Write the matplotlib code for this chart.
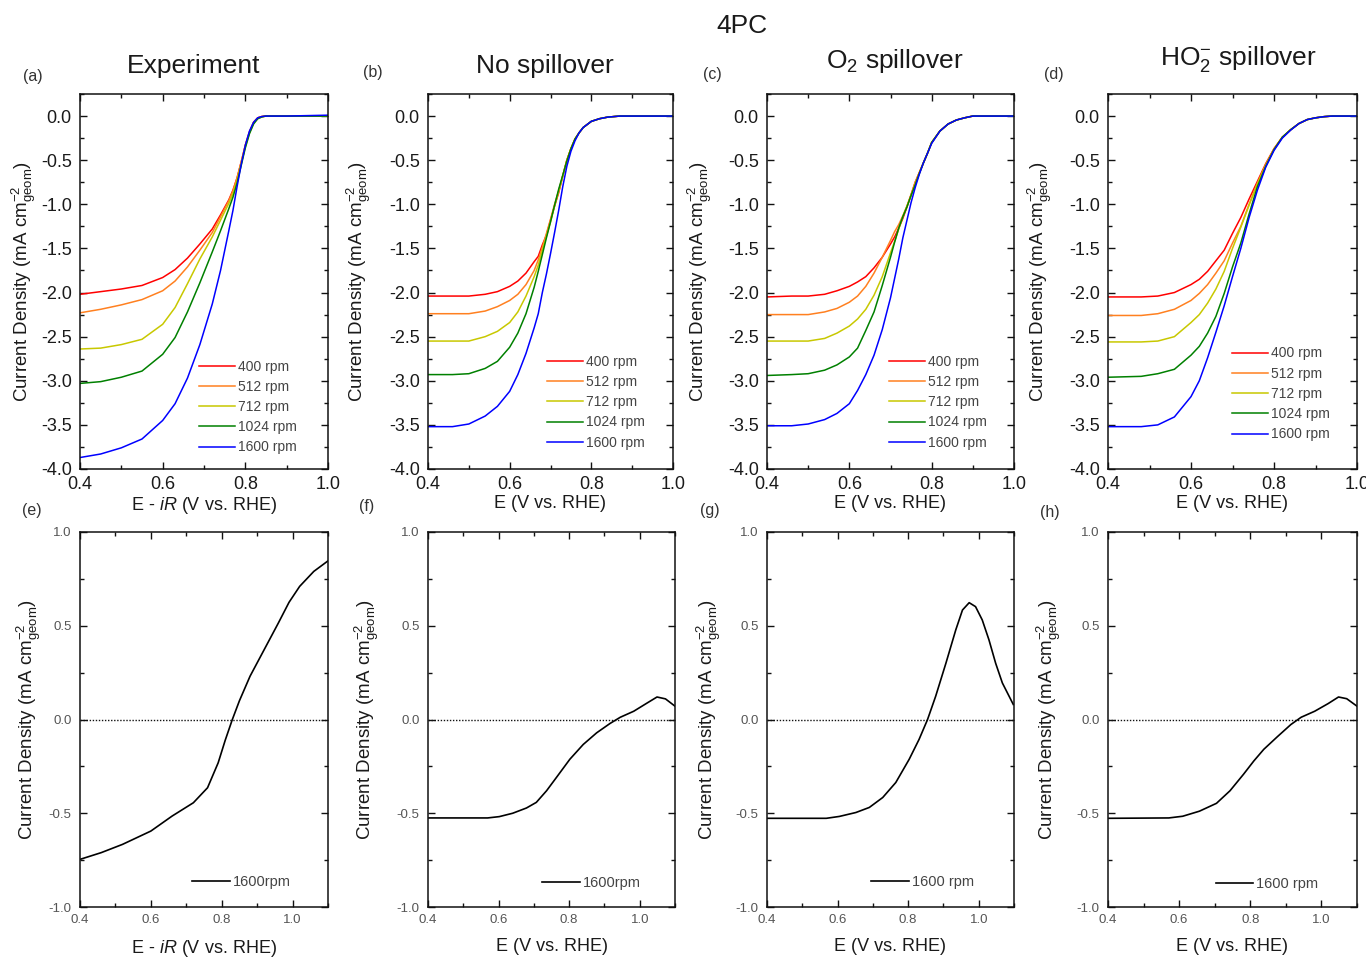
import matplotlib
matplotlib.use("Agg")
import matplotlib.pyplot as plt
from matplotlib.ticker import MultipleLocator, FormatStrFormatter

plt.rcParams['font.family'] = ['Liberation Sans', 'DejaVu Sans']
plt.rcParams['mathtext.fontset'] = 'custom'
plt.rcParams['mathtext.rm'] = 'Liberation Sans'
plt.rcParams['mathtext.it'] = 'Liberation Sans:italic'
plt.rcParams['mathtext.bf'] = 'Liberation Sans:bold'

# ---------------- data ----------------
rpm_labels = ['400 rpm', '512 rpm', '712 rpm', '1024 rpm', '1600 rpm']
rpm_colors = ['#ff0000', '#ff8020', '#c8c800', '#008000', '#0000ff']

# (a) Experiment
E_a = [0.40, 0.45, 0.50, 0.55, 0.60, 0.63, 0.66, 0.69, 0.72, 0.74, 0.76, 0.77,
       0.78, 0.79, 0.80, 0.81, 0.82, 0.83, 0.84, 0.85, 0.90, 1.00]
a_400 = [-2.02, -1.99, -1.96, -1.92, -1.83, -1.74, -1.61, -1.45, -1.28, -1.12, -0.95, -0.84,
         -0.70, -0.52, -0.33, -0.18, -0.07, -0.02, -0.005, 0.0, 0.0, 0.0]
a_512 = [-2.23, -2.19, -2.14, -2.08, -1.98, -1.87, -1.71, -1.52, -1.32, -1.14, -0.96, -0.85,
         -0.70, -0.52, -0.33, -0.18, -0.07, -0.02, -0.005, 0.0, 0.0, 0.0]
a_712 = [-2.64, -2.63, -2.59, -2.53, -2.36, -2.17, -1.90, -1.62, -1.37, -1.18, -0.99, -0.88,
         -0.73, -0.54, -0.35, -0.19, -0.08, -0.03, -0.01, 0.0, 0.0, 0.0]
a_1024 = [-3.03, -3.01, -2.96, -2.89, -2.70, -2.51, -2.22, -1.89, -1.54, -1.30, -1.05, -0.92,
          -0.76, -0.56, -0.36, -0.20, -0.09, -0.03, -0.01, 0.0, 0.0, 0.0]
a_1600 = [-3.87, -3.83, -3.76, -3.66, -3.45, -3.26, -2.97, -2.59, -2.13, -1.75, -1.30, -1.07,
          -0.80, -0.55, -0.33, -0.17, -0.07, -0.02, -0.005, 0.0, 0.0, 0.01]

# (b) No spillover
E_b = [0.40, 0.46, 0.50, 0.54, 0.57, 0.60, 0.62, 0.64, 0.66, 0.67, 0.68, 0.69, 0.70, 0.71,
       0.72, 0.73, 0.74, 0.75, 0.76, 0.77, 0.78, 0.80, 0.82, 0.84, 0.87, 0.90, 1.00]
b_400 = [-2.04, -2.04, -2.04, -2.02, -1.99, -1.93, -1.87, -1.78, -1.65, -1.59, -1.46, -1.35, -1.18, -1.02,
         -0.87, -0.68, -0.50, -0.37, -0.26, -0.19, -0.13, -0.06, -0.03, -0.012, 0.0, 0.0, 0.0]
b_512 = [-2.24, -2.24, -2.24, -2.21, -2.16, -2.09, -2.02, -1.91, -1.75, -1.63, -1.49, -1.33, -1.17, -1.00,
         -0.85, -0.68, -0.50, -0.37, -0.26, -0.19, -0.13, -0.06, -0.03, -0.012, 0.0, 0.0, 0.0]
b_712 = [-2.55, -2.55, -2.55, -2.50, -2.44, -2.34, -2.22, -2.04, -1.82, -1.69, -1.52, -1.36, -1.20, -1.02,
         -0.85, -0.68, -0.50, -0.37, -0.26, -0.19, -0.13, -0.06, -0.03, -0.012, 0.0, 0.0, 0.0]
b_1024 = [-2.93, -2.93, -2.92, -2.86, -2.78, -2.62, -2.46, -2.24, -1.94, -1.76, -1.57, -1.38, -1.20, -1.01,
          -0.83, -0.67, -0.51, -0.37, -0.26, -0.19, -0.13, -0.06, -0.03, -0.012, 0.0, 0.0, 0.0]
b_1600 = [-3.52, -3.52, -3.49, -3.40, -3.29, -3.12, -2.93, -2.69, -2.40, -2.24, -2.00, -1.79, -1.56, -1.32,
          -1.07, -0.80, -0.57, -0.40, -0.28, -0.19, -0.13, -0.06, -0.03, -0.012, 0.0, 0.0, 0.0]

# (c) O2 spillover
E_c = [0.40, 0.46, 0.50, 0.54, 0.57, 0.60, 0.62, 0.64, 0.66, 0.68, 0.70, 0.71, 0.72, 0.73,
       0.74, 0.75, 0.76, 0.77, 0.78, 0.79, 0.80, 0.82, 0.84, 0.86, 0.88, 0.90, 1.00]
c_400 = [-2.05, -2.04, -2.04, -2.02, -1.98, -1.93, -1.88, -1.82, -1.72, -1.60, -1.45, -1.37, -1.27, -1.16,
         -1.03, -0.89, -0.75, -0.64, -0.53, -0.42, -0.30, -0.17, -0.09, -0.045, -0.02, 0.0, 0.0]
c_512 = [-2.25, -2.25, -2.25, -2.22, -2.18, -2.11, -2.04, -1.93, -1.78, -1.60, -1.41, -1.31, -1.23, -1.13,
         -1.02, -0.89, -0.75, -0.64, -0.53, -0.42, -0.30, -0.17, -0.09, -0.045, -0.02, 0.0, 0.0]
c_712 = [-2.55, -2.55, -2.55, -2.52, -2.46, -2.38, -2.30, -2.19, -2.03, -1.82, -1.55, -1.42, -1.28, -1.14,
         -1.02, -0.90, -0.77, -0.65, -0.53, -0.42, -0.30, -0.17, -0.09, -0.045, -0.02, 0.0, 0.0]
c_1024 = [-2.94, -2.93, -2.92, -2.88, -2.82, -2.73, -2.63, -2.43, -2.22, -1.92, -1.60, -1.43, -1.27, -1.14,
          -1.03, -0.90, -0.78, -0.65, -0.53, -0.42, -0.30, -0.17, -0.09, -0.045, -0.02, 0.0, 0.0]
c_1600 = [-3.51, -3.51, -3.49, -3.44, -3.37, -3.26, -3.11, -2.93, -2.71, -2.42, -2.06, -1.84, -1.62, -1.38,
          -1.18, -0.98, -0.81, -0.66, -0.53, -0.42, -0.31, -0.17, -0.09, -0.045, -0.02, 0.0, 0.0]

# (d) HO2- spillover
E_d = [0.40, 0.48, 0.52, 0.56, 0.60, 0.62, 0.64, 0.66, 0.68, 0.70, 0.72, 0.74, 0.76,
       0.78, 0.80, 0.82, 0.84, 0.86, 0.88, 0.90, 0.92, 0.94, 1.00]
d_400 = [-2.05, -2.05, -2.04, -2.00, -1.91, -1.85, -1.76, -1.64, -1.52, -1.33, -1.15, -0.94, -0.74,
         -0.54, -0.37, -0.24, -0.155, -0.085, -0.04, -0.02, -0.007, 0.0, 0.0]
d_512 = [-2.26, -2.26, -2.24, -2.19, -2.09, -2.01, -1.91, -1.78, -1.64, -1.44, -1.25, -1.00, -0.76,
         -0.55, -0.37, -0.24, -0.155, -0.085, -0.04, -0.02, -0.007, 0.0, 0.0]
d_712 = [-2.56, -2.56, -2.55, -2.50, -2.34, -2.25, -2.12, -1.96, -1.76, -1.50, -1.26, -1.01, -0.77,
         -0.56, -0.38, -0.24, -0.155, -0.085, -0.04, -0.02, -0.007, 0.0, 0.0]
d_1024 = [-2.96, -2.95, -2.92, -2.87, -2.71, -2.61, -2.46, -2.27, -2.01, -1.71, -1.44, -1.11, -0.80,
          -0.57, -0.38, -0.24, -0.155, -0.085, -0.04, -0.02, -0.007, 0.0, 0.0]
d_1600 = [-3.52, -3.52, -3.50, -3.41, -3.18, -3.00, -2.74, -2.45, -2.15, -1.82, -1.50, -1.15, -0.84,
          -0.58, -0.39, -0.25, -0.16, -0.085, -0.04, -0.02, -0.007, 0.0, 0.0]

# bottom row, 1600 rpm
E_e = [0.40, 0.46, 0.52, 0.60, 0.66, 0.72, 0.76, 0.79, 0.81, 0.83, 0.85, 0.88, 0.92,
       0.96, 0.99, 1.02, 1.06, 1.10]
J_e = [-0.746, -0.71, -0.666, -0.595, -0.515, -0.444, -0.364, -0.231, -0.11, 0.0, 0.10, 0.231,
       0.373, 0.515, 0.625, 0.71, 0.79, 0.846]

E_f = [0.40, 0.569, 0.602, 0.640, 0.679, 0.707, 0.736, 0.764, 0.802, 0.840, 0.878, 0.916,
       0.945, 0.983, 1.021, 1.049, 1.073, 1.10]
J_f = [-0.525, -0.525, -0.518, -0.50, -0.472, -0.442, -0.38, -0.309, -0.212, -0.133, -0.071,
       -0.021, 0.012, 0.044, 0.088, 0.12, 0.11, 0.071]

E_g = [0.40, 0.568, 0.605, 0.652, 0.690, 0.728, 0.765, 0.803, 0.831, 0.855, 0.878, 0.907,
       0.935, 0.954, 0.973, 0.991, 1.010, 1.029, 1.048, 1.067, 1.098]
J_g = [-0.527, -0.527, -0.517, -0.496, -0.469, -0.416, -0.336, -0.212, -0.106, 0.0, 0.124, 0.30,
       0.478, 0.584, 0.623, 0.602, 0.531, 0.425, 0.30, 0.195, 0.08]

E_h = [0.40, 0.571, 0.610, 0.657, 0.705, 0.743, 0.781, 0.810, 0.838, 0.876, 0.914, 0.943,
       0.981, 1.019, 1.048, 1.071, 1.10]
J_h = [-0.527, -0.525, -0.516, -0.489, -0.447, -0.38, -0.292, -0.221, -0.159, -0.092, -0.027,
       0.012, 0.044, 0.085, 0.12, 0.111, 0.071]

top_titles = ['Experiment', 'No spillover', r'O$_2$ spillover', r'HO$_2^{-}$ spillover']
top_letters = ['(a)', '(b)', '(c)', '(d)']
bot_letters = ['(e)', '(f)', '(g)', '(h)']
top_xlabels = [r'E - $\mathit{iR}$ (V vs. RHE)', 'E (V vs. RHE)', 'E (V vs. RHE)', 'E (V vs. RHE)']
bot_xlabels = top_xlabels
bot_legend = ['1600rpm', '1600rpm', '1600 rpm', '1600 rpm']
ylabel_txt = r'Current Density (mA cm$^{-2}_{\mathrm{geom}}$)'

# ---------------- layout ----------------
W, H = 1366, 958
fig = plt.figure(figsize=(W / 100, H / 100), dpi=100)

def frac(left, right, top, bottom):
    return [left / W, 1 - bottom / H, (right - left) / W, (bottom - top) / H]

top_pos = [(80, 328), (428, 673), (767, 1014), (1108, 1357)]
bot_pos = [(80, 328), (428, 675), (767, 1014), (1108, 1357)]

top_data = [
    (E_a, [a_400, a_512, a_712, a_1024, a_1600]),
    (E_b, [b_400, b_512, b_712, b_1024, b_1600]),
    (E_c, [c_400, c_512, c_712, c_1024, c_1600]),
    (E_d, [d_400, d_512, d_712, d_1024, d_1600]),
]
bot_data = [(E_e, J_e), (E_f, J_f), (E_g, J_g), (E_h, J_h)]

top_leg_anchor = [(0.478, 0.292), (0.484, 0.305), (0.492, 0.305), (0.496, 0.327)]
top_ylab_x = [-0.17, -0.225, -0.215, -0.215]
bot_leg_anchor = [(0.45, 0.067), (0.46, 0.064), (0.42, 0.067), (0.432, 0.061)]
bot_ylab_x = [-0.15, -0.19, -0.18, -0.18]
top_letter_xy = [(33, 76), (373, 72), (712, 74), (1054, 74)]
bot_letter_xy = [(32, 510), (367, 507), (710, 510), (1050, 513)]
title_xy = [(194, 66), (545, 66), (895, 61), (1238, 59)]

dark = '#1a1a1a'
mid = '#555555'

def style_axes(ax, labcolor, labsize):
    for s in ax.spines.values():
        s.set_linewidth(1.1)
        s.set_color('#111111')
    ax.tick_params(which='both', direction='in', top=True, right=True,
                   colors='#111111', labelcolor=labcolor, labelsize=labsize, width=1.0)
    ax.tick_params(which='major', length=5, pad=6)
    ax.tick_params(which='minor', length=3)

for i in range(4):
    l, r = top_pos[i]
    ax = fig.add_axes(frac(l, r, 94, 469))
    E, series = top_data[i]
    for ys, c, lab in zip(series, rpm_colors, rpm_labels):
        ax.plot(E, ys, color=c, lw=1.1, label=lab)
    ax.set_xlim(0.4, 1.0)
    ax.set_ylim(-4.0, 0.25)
    ax.xaxis.set_major_locator(MultipleLocator(0.2))
    ax.xaxis.set_minor_locator(MultipleLocator(0.1))
    ax.yaxis.set_major_locator(MultipleLocator(0.5))
    ax.yaxis.set_minor_locator(MultipleLocator(0.25))
    ax.xaxis.set_major_formatter(FormatStrFormatter('%.1f'))
    ax.yaxis.set_major_formatter(FormatStrFormatter('%.1f'))
    style_axes(ax, dark, 13)
    ax.tick_params(axis='x', which='major', pad=5)
    ax.set_xlabel(top_xlabels[i], fontsize=13, color=dark)
    ax.xaxis.set_label_coords(0.5, -0.068)
    ax.set_ylabel(ylabel_txt, fontsize=13.5, color=dark)
    ax.yaxis.set_label_coords(top_ylab_x[i], 0.5)
    leg = ax.legend(loc='upper left', bbox_to_anchor=top_leg_anchor[i], frameon=False,
                    fontsize=10, handlelength=2.6, handletextpad=0.25, labelspacing=0.45,
                    borderpad=0, borderaxespad=0)
    for t in leg.get_texts():
        t.set_color('#444444')
    fig.text(title_xy[i][0] / W, 1 - title_xy[i][1] / H, top_titles[i], fontsize=19,
             ha='center', va='center', color=dark)
    fig.text(top_letter_xy[i][0] / W, 1 - top_letter_xy[i][1] / H, top_letters[i],
             fontsize=11.5, ha='center', va='center', color='#333333')

for i in range(4):
    l, r = bot_pos[i]
    ax = fig.add_axes(frac(l, r, 532, 907))
    E, J = bot_data[i]
    ax.axhline(0.0, color='#111111', lw=1.0, ls=(0, (1, 1.2)))
    ax.plot(E, J, color='#000000', lw=1.2, label=bot_legend[i])
    ax.set_xlim(0.4, 1.1)
    ax.set_ylim(-1.0, 1.0)
    ax.xaxis.set_major_locator(MultipleLocator(0.2))
    ax.xaxis.set_minor_locator(MultipleLocator(0.1))
    ax.yaxis.set_major_locator(MultipleLocator(0.5))
    ax.yaxis.set_minor_locator(MultipleLocator(0.25))
    ax.xaxis.set_major_formatter(FormatStrFormatter('%.1f'))
    ax.yaxis.set_major_formatter(FormatStrFormatter('%.1f'))
    style_axes(ax, mid, 9.5)
    ax.tick_params(axis='x', which='major', pad=5)
    ax.set_xlabel(bot_xlabels[i], fontsize=13, color=dark)
    ax.xaxis.set_label_coords(0.5, -0.082)
    ax.set_ylabel(ylabel_txt, fontsize=13.5, color=dark)
    ax.yaxis.set_label_coords(bot_ylab_x[i], 0.5)
    leg = ax.legend(loc='center left', bbox_to_anchor=bot_leg_anchor[i], frameon=False,
                    fontsize=10.5, handlelength=2.6, handletextpad=0.2,
                    borderpad=0, borderaxespad=0)
    for t in leg.get_texts():
        t.set_color('#444444')
    fig.text(bot_letter_xy[i][0] / W, 1 - bot_letter_xy[i][1] / H, bot_letters[i],
             fontsize=11.5, ha='center', va='center', color='#333333')

fig.text(742 / W, 1 - 26 / H, '4PC', fontsize=19, ha='center', va='center', color=dark)

fig.savefig('out.png', dpi=100)
